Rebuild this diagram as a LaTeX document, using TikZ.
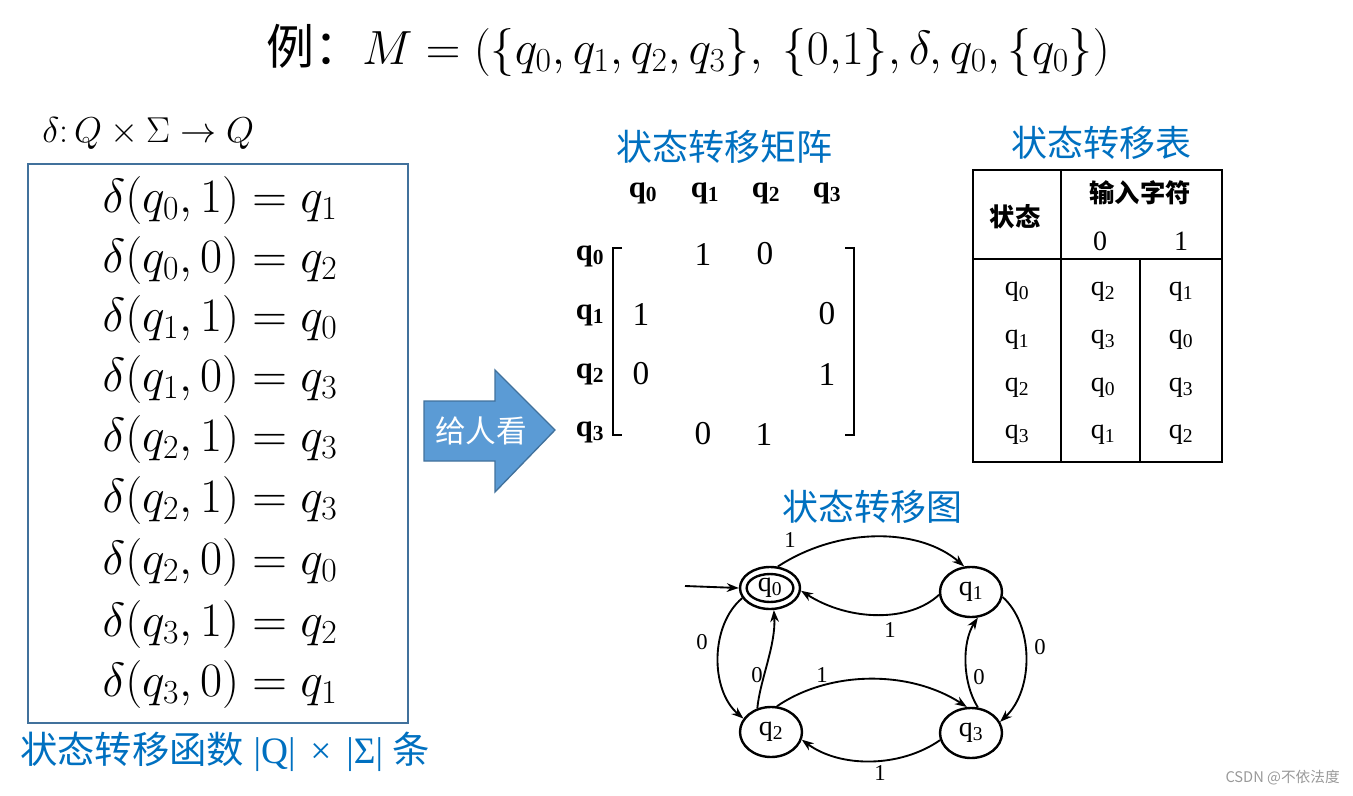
\RequirePackage{fix-cm}
\documentclass[tikz,border=0pt]{standalone}
\usepackage{fontspec}
\setmainfont{Liberation Serif}
\newfontfamily\cjk{Noto Sans CJK SC}
\newfontfamily\tms{Liberation Serif}
\usetikzlibrary{arrows.meta,shapes.geometric}
\definecolor{txtblue}{RGB}{0,112,192}
\definecolor{boxblue}{RGB}{65,113,156}
\definecolor{arrfill}{RGB}{91,155,213}
\newcommand{\qq}[1]{q\textsubscript{#1}}
\tikzset{
  bluetxt/.style={text=txtblue,font=\cjk\fontsize{27}{30}\selectfont,inner sep=0pt},
  eqn/.style={font=\fontsize{36}{39}\selectfont,inner sep=0pt},
  mq/.style={font=\tms\bfseries\fontsize{23}{25}\selectfont,inner sep=0pt},
  mnum/.style={font=\tms\fontsize{25}{27}\selectfont,inner sep=0pt},
  tq/.style={font=\tms\fontsize{21}{23}\selectfont,inner sep=0pt},
  state/.style={draw,ellipse,line width=1.8pt,minimum width=46.5pt,minimum height=37.5pt,inner sep=0pt,font=\tms\fontsize{21}{23}\selectfont},
  edge/.style={line width=1.4pt,-{Stealth[length=9pt,width=6.5pt]}},
  elab/.style={font=\tms\fontsize{17}{19}\selectfont,inner sep=0pt},
}
\begin{document}
\begin{tikzpicture}[x=0.75pt,y=-0.75pt]
\useasboundingbox (0,0) rectangle (1353,796);
% title
\node[font=\fontsize{36}{40}\selectfont,inner sep=0pt] (title) at (688,50)
  {{\cjk 例：}$M=(\{q_0,q_1,q_2,q_3\},\ \{0{,}1\},\delta,q_0,\{q_0\})$};
\node[font=\fontsize{27}{30}\selectfont,inner sep=0pt,anchor=west] (sig) at (42,133)
  {$\delta\colon Q\times\Sigma\rightarrow Q$};
% left box
\node[draw=boxblue,line width=1.5pt,minimum width=285pt,minimum height=419pt,inner sep=0pt] (box) at (218,443.5) {};
\node[eqn] (e1) at (220,200) {$\delta(q_0,1)=q_1$};
\node[eqn] (e2) at (220,260) {$\delta(q_0,0)=q_2$};
\node[eqn] (e3) at (220,319) {$\delta(q_1,1)=q_0$};
\node[eqn] (e4) at (220,379) {$\delta(q_1,0)=q_3$};
\node[eqn] (e5) at (220,439) {$\delta(q_2,1)=q_3$};
\node[eqn] (e6) at (220,500) {$\delta(q_2,1)=q_3$};
\node[eqn] (e7) at (220,562) {$\delta(q_2,0)=q_0$};
\node[eqn] (e8) at (220,624) {$\delta(q_3,1)=q_2$};
\node[eqn] (e9) at (220,684) {$\delta(q_3,0)=q_1$};
\node[bluetxt,font=\cjk\fontsize{28}{31}\selectfont,anchor=west] (cap) at (20,752) {状态转移函数\hspace{0.25em}{\tms |Q|\hspace{0.4em}×\hspace{0.4em}|Σ|}\hspace{0.25em}条};
% big arrow
\draw[fill=arrfill,draw=boxblue,line width=1pt]
  (424,401) -- (495,401) -- (495,370) -- (555,430) -- (495,492) -- (495,461) -- (424,461) -- cycle;
\node[text=white,font=\cjk\fontsize{23}{26}\selectfont,inner sep=0pt] (give) at (481,431) {给人看};
% matrix
\node[bluetxt] (mtitle) at (724,147) {状态转移矩阵};
\node[mq] (h0) at (643,193) {\qq0};
\node[mq] (h1) at (705,193) {\qq1};
\node[mq] (h2) at (766,193) {\qq2};
\node[mq] (h3) at (827,193) {\qq3};
\node[mq] (r0) at (590,256) {\qq0};
\node[mq] (r1) at (590,315) {\qq1};
\node[mq] (r2) at (590,374) {\qq2};
\node[mq] (r3) at (590,432) {\qq3};
\draw[line width=1.6pt] (622,248) -- (613,248) -- (613,435) -- (622,435);
\draw[line width=1.6pt] (845,248) -- (854,248) -- (854,435) -- (845,435);
\node[mnum] (m01) at (703,254) {1};
\node[mnum] (m02) at (765,254) {0};
\node[mnum] (m10) at (641,314) {1};
\node[mnum] (m13) at (827,314) {0};
\node[mnum] (m20) at (641,374) {0};
\node[mnum] (m23) at (827,374) {1};
\node[mnum] (m31) at (703,434) {0};
\node[mnum] (m32) at (764,434) {1};
% table
\node[bluetxt] (ttitle) at (1101,143) {状态转移表};
\draw[line width=2.2pt] (973,170) rectangle (1222,462);
\draw[line width=1.6pt] (973,259) -- (1222,259);
\draw[line width=1.6pt] (1061,170) -- (1061,462);
\draw[line width=1.6pt] (1140,259) -- (1140,462);
\node[font=\cjk\bfseries\fontsize{19}{21}\selectfont,inner sep=0pt] (tst) at (1015,217) {状态};
\node[font=\cjk\bfseries\fontsize{19}{21}\selectfont,inner sep=0pt] (tin) at (1140,193) {输入字符};
\node[tq] (t0) at (1100,241) {0};
\node[tq] (t1) at (1181,241) {1};
\node[tq] (a0) at (1017,292) {\qq0};
\node[tq] (a1) at (1017,340) {\qq1};
\node[tq] (a2) at (1017,388) {\qq2};
\node[tq] (a3) at (1017,435) {\qq3};
\node[tq] (b0) at (1103,292) {\qq2};
\node[tq] (b1) at (1103,340) {\qq3};
\node[tq] (b2) at (1103,388) {\qq0};
\node[tq] (b3) at (1103,435) {\qq1};
\node[tq] (c0) at (1181,292) {\qq1};
\node[tq] (c1) at (1181,340) {\qq0};
\node[tq] (c2) at (1181,388) {\qq3};
\node[tq] (c3) at (1181,435) {\qq2};
% state diagram
\node[bluetxt] (gtitle) at (872,507) {状态转移图};
\node[state,minimum width=45pt,minimum height=31.5pt] (q0) at (770,588) {\qq0};
\draw[line width=1.8pt] (q0.center) ellipse [x radius=17.5pt, y radius=10.5pt];
\node[state] (q1) at (971,592) {\qq1};
\node[state] (q2) at (771,732) {\qq2};
\node[state] (q3) at (971,733) {\qq3};
\coordinate (start) at (685,586);
\draw[edge] (start) -- (q0.west);
\draw[edge] (q0.70) .. controls (840,526) and (920,528) .. (q1.105);
\draw[edge] (q1.185) .. controls (910,622) and (850,622) .. (q0.-5);
\draw[edge] (q0.200) .. controls (710,625) and (710,690) .. (q2.154);
\draw[edge] (q2.120) .. controls (760,680) and (776,645) .. (q0.-80);
\draw[edge] (q2.77) .. controls (830,670) and (910,670) .. (q3.99);
\draw[edge] (q3.193) .. controls (900,768) and (840,768) .. (q2.-14);
\draw[edge] (q1.-9) .. controls (1034,625) and (1034,690) .. (q3.21);
\draw[edge] (q3.75) .. controls (962,682) and (962,642) .. (q1.-75);
\node[elab] (l01) at (790,540) {1};
\node[elab] (l10) at (890,630) {1};
\node[elab] (l02) at (702,642) {0};
\node[elab] (l20) at (757,675) {0};
\node[elab] (l23) at (822,675) {1};
\node[elab] (l32) at (880,773) {1};
\node[elab] (l13) at (1040,647) {0};
\node[elab] (l31) at (979,677) {0};
% watermark
\node[font=\cjk\fontsize{11}{13}\selectfont,text=black!40,inner sep=0pt,anchor=east] (wm) at (1340,778) {CSDN @不依法度};
\end{tikzpicture}
\end{document}
